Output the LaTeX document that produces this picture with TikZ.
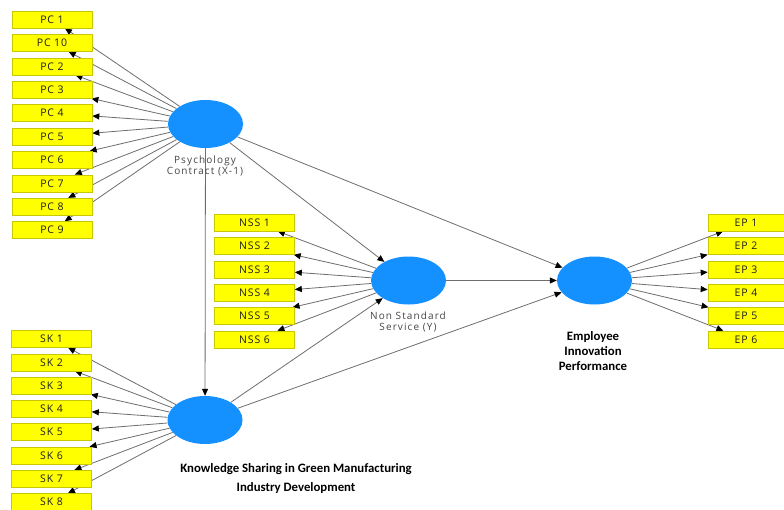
\documentclass[tikz,border=0pt]{standalone}
\usepackage{fontspec}
\setmainfont{Open Sans}
\newfontfamily\boxfont[LetterSpace=8]{Open Sans}
\newfontfamily\labfont[LetterSpace=11]{Open Sans}
\newfontfamily\calibri{Carlito}
\usetikzlibrary{arrows.meta,shapes.geometric,backgrounds}
\definecolor{boxyel}{RGB}{255,255,0}
\definecolor{boxedge}{RGB}{200,200,0}
\definecolor{lvblue}{RGB}{20,144,255}
\definecolor{edgegray}{RGB}{110,110,110}
\definecolor{labgray}{RGB}{70,70,70}
\definecolor{boxtext}{RGB}{30,30,30}
\begin{document}
\begin{tikzpicture}[x=1pt,y=-1pt,
  ind/.style={draw=boxedge, fill=boxyel, line width=0.6pt, minimum width=80pt,
    minimum height=17pt, inner sep=0pt, text=boxtext,
    font=\boxfont\fontsize{10.5}{12}\selectfont},
  indep/.style={ind, minimum width=76pt},
  lv/.style={ellipse, fill=lvblue, minimum width=75pt, minimum height=48pt, inner sep=0pt},
  glab/.style={align=center, text=labgray, font=\labfont\fontsize{10}{10.5}\selectfont, inner sep=0pt},
  blab/.style={align=center, text=black, font=\calibri\bfseries\fontsize{12.8}{15}\selectfont, inner sep=0pt},
  arr/.style={draw=edgegray, line width=0.8pt, -{Triangle[length=7pt,width=6pt,color=black]}}]
\useasboundingbox (0,0) rectangle (784,509);
% latent variables
\node[lv] (pc) at (205.5,124) {};
\node[lv] (nss) at (408.5,280.5) {};
\node[lv] (ep) at (594.5,280.5) {};
\node[lv] (sk) at (205,420) {};
% labels
\node[glab] (pclab) at (205,166) {Psychology\\Contract (X-1)};
\node[glab] (nsslab) at (408,322) {Non Standard\\Service (Y)};
\node[blab] (eplab) at (593,351) {Employee\\Innovation\\Performance};
\node[blab, font=\calibri\bfseries\fontsize{12.8}{19}\selectfont] (sklab) at (296,478.5) {Knowledge Sharing in Green Manufacturing\\Industry Development};
% indicators
\foreach \t [count=\i from 0] in {1,10,2,3,4,5,6,7,8,9}
  \node[ind] (pc\t) at (52,{19.5+23.4*\i}) {PC \t};
\foreach \t [count=\i from 0] in {1,...,6}
  \node[ind] (nss\t) at (254.5,{222.5+23.4*\i}) {NSS \t};
\foreach \t [count=\i from 0] in {1,...,6}
  \node[indep] (ep\t) at (746,{222.5+23.4*\i}) {EP \t};
\foreach \t [count=\i from 0] in {1,...,8}
  \node[ind] (sk\t) at (51.5,{339+23.3*\i}) {SK \t};
% connectors
\begin{scope}[on background layer]
  \fill[white] (0,0) rectangle (784,509);
  \foreach \t in {1,...,10} \draw[arr] (pc) -- (pc\t);
  \foreach \t in {1,...,6} \draw[arr] (nss) -- (nss\t);
  \foreach \t in {1,...,6} \draw[arr] (ep) -- (ep\t);
  \foreach \t in {1,...,8} \draw[arr] (sk) -- (sk\t);
  \draw[arr] (pc) -- (nss);
  \draw[arr] (pc) -- (ep);
  \draw[arr] (pc) -- (sk);
  \draw[arr] (sk) -- (nss);
  \draw[arr] (sk) -- (ep);
  \draw[arr] (nss) -- (ep);
\end{scope}
\end{tikzpicture}
\end{document}
